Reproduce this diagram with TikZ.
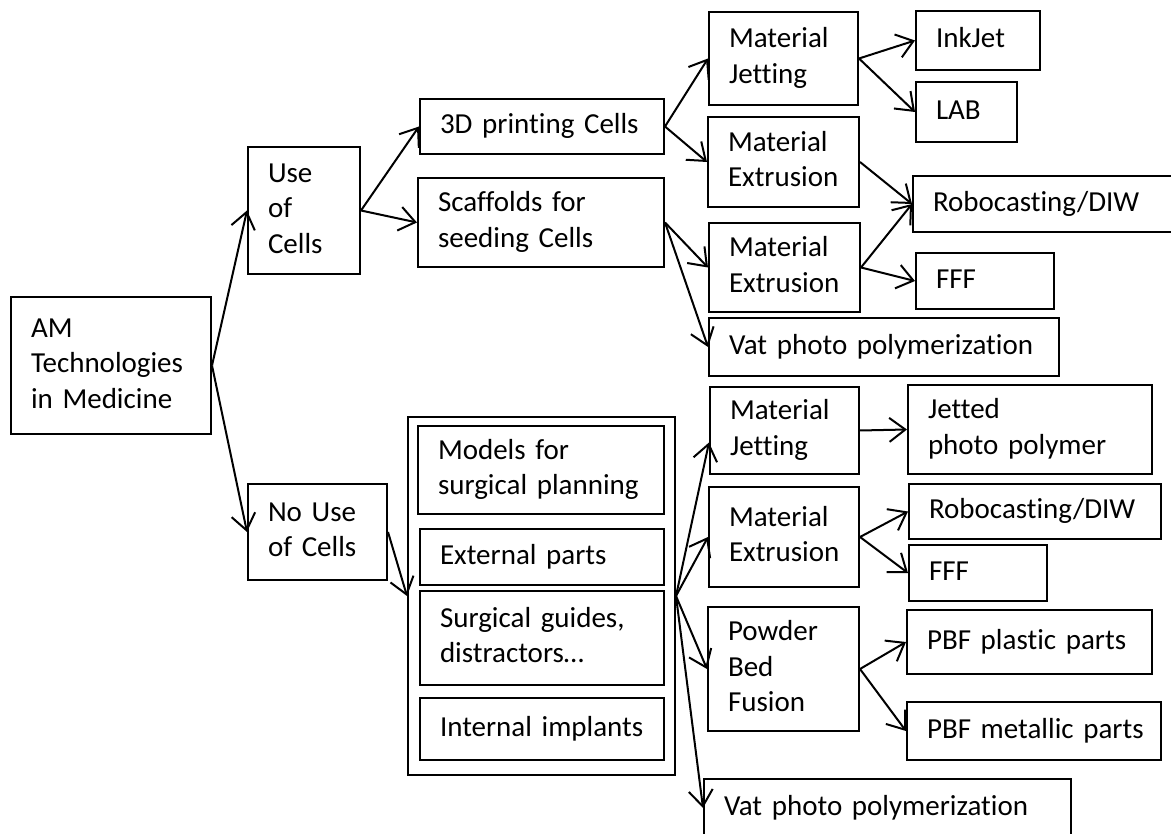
\documentclass[tikz,border=0pt]{standalone}
\usepackage{fontspec}
\setmainfont{Carlito}[Ligatures={NoCommon}]
\usetikzlibrary{arrows.meta}
\newcommand\boxtxt[1]{\begin{tabular}{@{}l@{}}#1\end{tabular}}
\begin{document}
\begin{tikzpicture}[x=1pt,y=-1pt,
  box/.style={draw, line width=2pt, anchor=north west, align=left,
    inner xsep=20pt, inner ysep=0pt, font=\fontsize{29}{35.5}\selectfont},
  frame/.style={draw, line width=2pt, anchor=north west, inner sep=0pt},
  arr/.style={line width=2pt, -{Straight Barb[length=16pt,width=24pt,line width=2pt]}}]
\useasboundingbox (0,0) rectangle (1171,834);
\fill[white] (0,0) rectangle (1171,834);
\clip (0,0) rectangle (1171,834);

% level 0/1
\node[box, text width=160pt, minimum height=137pt] (am) at (10,296) {\boxtxt{AM\\Technologies\\in Medicine}};
\node[box, text width=72pt, minimum height=127pt] (use) at (247,146) {\boxtxt{Use\\of\\Cells}};
\node[box, text width=99pt, minimum height=96pt] (nouse) at (247,483) {\boxtxt{No Use\\of Cells}};

% use of cells branch
\node[box, text width=204pt, minimum height=55pt] (p3d) at (419,98) {\boxtxt{3D printing Cells}};
\node[box, text width=206pt, minimum height=89pt] (scaf) at (417,177) {\boxtxt{Scaffolds for\\seeding Cells}};
\node[box, text width=109pt, minimum height=93pt] (mj1) at (708,11) {\boxtxt{Material\\Jetting}};
\node[box, text width=111pt, minimum height=90pt] (me1) at (707,116) {\boxtxt{Material\\Extrusion}};
\node[box, text width=111pt, minimum height=89pt] (me2) at (708,222) {\boxtxt{Material\\Extrusion}};
\node[box, text width=310pt, minimum height=58pt] (vat1) at (708,317) {\boxtxt{Vat photo polymerization}};
\node[box, text width=84pt, minimum height=59pt] (ink) at (915,10) {\boxtxt{InkJet}};
\node[box, text width=61pt, minimum height=60pt] (lab) at (915,81) {\boxtxt{LAB}};
\node[box, text width=220pt, minimum height=56pt] (robo1) at (912,175) {\boxtxt{Robocasting/DIW}};
\node[box, text width=98pt, minimum height=56pt] (fff1) at (915,252) {\boxtxt{FFF}};

% no use of cells branch
\node[frame, minimum width=267pt, minimum height=358pt] (cont) at (407,416) {};
\node[box, text width=206pt, minimum height=88pt] (models) at (417,425) {\boxtxt{Models for\\surgical planning}};
\node[box, text width=204pt, minimum height=56pt] (ext) at (419,528) {\boxtxt{External parts}};
\node[box, text width=204pt, minimum height=94pt] (guides) at (419,590) {\boxtxt{Surgical guides,\\distractors\ldots}};
\node[box, text width=204pt, minimum height=62pt] (impl) at (419,697) {\boxtxt{Internal implants}};

\node[box, text width=109pt, minimum height=87pt] (mj2) at (709,386) {\boxtxt{Material\\Jetting}};
\node[box, text width=110pt, minimum height=100pt] (me3) at (708,486) {\boxtxt{Material\\Extrusion}};
\node[box, text width=111pt, minimum height=124pt] (pbf) at (707,606) {\boxtxt{Powder\\Bed\\Fusion}};
\node[box, text width=327pt, minimum height=58pt] (vat2) at (703,778) {\boxtxt{Vat photo polymerization}};
\node[box, text width=204pt, minimum height=89pt] (jet) at (907,384) {\boxtxt{Jetted\\photo polymer}};
\node[box, text width=212pt, minimum height=55pt] (robo2) at (908,483) {\boxtxt{Robocasting/DIW}};
\node[box, text width=98pt, minimum height=56pt] (fff2) at (908,544) {\boxtxt{FFF}};
\node[box, text width=205pt, minimum height=64pt] (pbfp) at (906,609) {\boxtxt{PBF plastic parts}};
\node[box, text width=214pt, minimum height=58pt] (pbfm) at (906,701) {\boxtxt{PBF metallic parts}};

% connectors
\draw[arr] (am.east) -- (use.west);
\draw[arr] (am.east) -- (nouse.west);
\draw[arr] (use.east) -- (p3d.west);
\draw[arr] (use.east) -- (scaf.west);
\draw[arr] (p3d.east) -- (mj1.west);
\draw[arr] (p3d.east) -- (me1.west);
\draw[arr] (scaf.east) -- (me2.west);
\draw[arr] (scaf.east) -- (vat1.west);
\draw[arr] (mj1.east) -- (ink.west);
\draw[arr] (mj1.east) -- (lab.west);
\draw[arr] (me1.east) -- (robo1.west);
\draw[arr] (me2.east) -- (robo1.west);
\draw[arr] (me2.east) -- (fff1.west);
\draw[arr] (nouse.east) -- (cont.west);
\draw[arr] (cont.east) -- ([yshift=-12pt]mj2.west);
\draw[arr] (cont.east) -- (me3.west);
\draw[arr] (cont.east) -- (pbf.west);
\draw[arr] (cont.east) -- (vat2.west);
\draw[arr] (mj2.east) -- (jet.west);
\draw[arr] (me3.east) -- (robo2.west);
\draw[arr] (me3.east) -- (fff2.west);
\draw[arr] (pbf.east) -- (pbfp.west);
\draw[arr] (pbf.east) -- (pbfm.west);
\end{tikzpicture}
\end{document}
